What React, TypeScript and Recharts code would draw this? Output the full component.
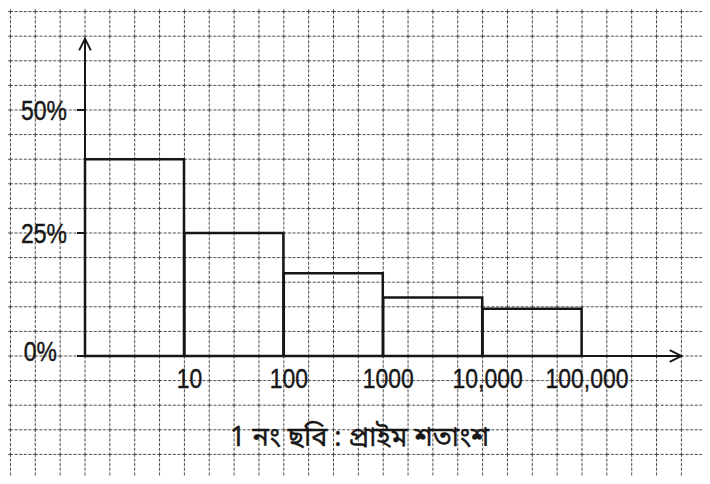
import React from 'react';
import { BarChart, Bar, XAxis, YAxis } from 'recharts';

// bins are labelled by their upper bound, the last slot is left empty
const bins = ['10', '100', '1000', '10,000', '100,000', ''];
const shares = [40, 25, 16.8, 11.9, 9.6, null];
const yTicks = [0, 25, 50];
const title = '1 নং ছবি : প্রাইম শতাংশ';

const data = bins.map((bin, i) => ({ bin, share: shares[i] }));

const W = 710;
const H = 484;
const LEFT = 85;
const PLOT_W = 596.4;
const AXIS_Y = 356;
const Y_MAX = 64.5;
const CELL_X = PLOT_W / 24;
const CELL_Y = 24.6;
const TOP = AXIS_Y - Y_MAX * (CELL_Y / 5);
const BAND = PLOT_W / bins.length;

const INK = '#161616';
const FONT = '"Liberation Sans", Arial, sans-serif';
// the printed digits are narrow, so squeeze the text sideways
const SQUEEZE = 0.85;

const XTick = (props: any) => {
  const { x, y, payload } = props;
  if (!payload.value) return null;
  return (
    <g transform={`translate(${x + BAND / 2 + 5},${y + 32}) scale(${SQUEEZE},1)`}>
      <text x={0} y={0} textAnchor="middle" fill={INK} stroke={INK} strokeWidth={0.4} fontSize={27} fontFamily={FONT}>
        {payload.value}
      </text>
    </g>
  );
};

const YTick = (props: any) => {
  const { x, y, payload } = props;
  const zero = payload.value === 0;
  return (
    <g transform={`translate(${x + (zero ? -10 : 0)},${y}) scale(${SQUEEZE},1)`}>
      <text x={0} y={0} dy={zero ? '0.2em' : '0.36em'} textAnchor="end" fill={INK} stroke={INK} strokeWidth={0.4}
        fontSize={27} fontFamily={FONT}>
        {payload.value + '%'}
      </text>
    </g>
  );
};

const GridPaper = () => (
  <svg width={W} height={H} style={{ position: 'absolute', left: 0, top: 0 }}>
    <defs>
      <pattern id="paper" patternUnits="userSpaceOnUse" x={LEFT - 0.5} y={AXIS_Y - 0.5} width={CELL_X} height={CELL_Y}>
        <line x1={0.5} y1={0} x2={0.5} y2={CELL_Y} stroke="#444" strokeWidth={1} strokeDasharray="3 1.6" />
        <line x1={0} y1={0.5} x2={CELL_X} y2={0.5} stroke="#444" strokeWidth={1} strokeDasharray="3 1.6" />
      </pattern>
      <marker id="arrowHead" viewBox="0 0 12 12" refX={11} refY={6} markerWidth={14} markerHeight={14}
        markerUnits="userSpaceOnUse" orient="auto-start-reverse">
        <path d="M1,1 L11,6 L1,11" fill="none" stroke={INK} strokeWidth={1.6} />
      </marker>
    </defs>
    <rect x={0} y={0} width={W} height={H} fill="#fff" />
    <rect x={0} y={0} width={W} height={H} fill="url(#paper)" />
  </svg>
);

export default function App() {
  return (
    <div style={{ position: 'relative', width: W, height: H, margin: -8, overflow: 'hidden' }}>
      <GridPaper />
      <div style={{ position: 'absolute', left: 0, top: 0 }}>
        <BarChart
          width={W}
          height={H}
          data={data}
          margin={{ top: TOP, right: W - LEFT - PLOT_W, bottom: 88, left: 0 }}
          barCategoryGap={0}
          barGap={0}
        >
          <XAxis
            dataKey="bin"
            height={H - AXIS_Y - 88}
            tickLine={false}
            tickSize={0}
            tickMargin={0}
            interval={0}
            tick={<XTick />}
            axisLine={{ stroke: INK, strokeWidth: 2, markerEnd: 'url(#arrowHead)' }}
          />
          <YAxis
            width={LEFT}
            type="number"
            domain={[0, Y_MAX]}
            ticks={yTicks}
            tickSize={8}
            tickMargin={10}
            tick={<YTick />}
            tickLine={{ stroke: INK, strokeWidth: 2 }}
            axisLine={{ stroke: INK, strokeWidth: 2, markerStart: 'url(#arrowHead)' }}
          />
          <Bar dataKey="share" fill="none" stroke={INK} strokeWidth={2.5} isAnimationActive={false} />
        </BarChart>
      </div>
      <div style={{ position: 'absolute', left: 230, top: 421, fontSize: 27, color: INK, whiteSpace: 'nowrap',
        fontFamily: '"Noto Sans Bengali", "Noto Sans", sans-serif', WebkitTextStroke: '0.4px #161616' }}>
        {title}
      </div>
    </div>
  );
}
